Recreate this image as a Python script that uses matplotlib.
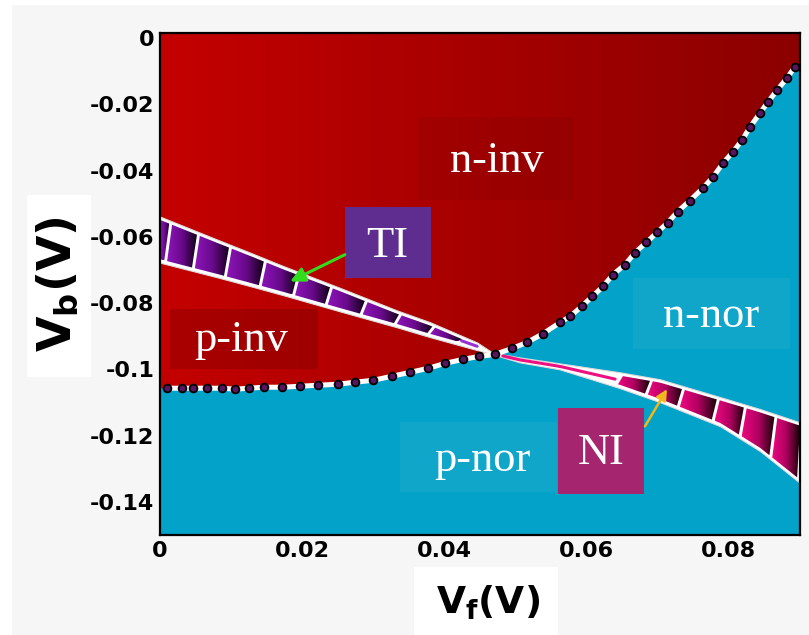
import numpy as np
import matplotlib.pyplot as plt
from matplotlib.patches import Polygon, Rectangle
from matplotlib.colors import LinearSegmentedColormap

# phase boundary between inverted and normal regimes (dots)
bound_vf = [0.0010, 0.0031, 0.0046, 0.0066, 0.0087, 0.0106, 0.0125, 0.0146,
            0.0172, 0.0197, 0.0222, 0.0250, 0.0274, 0.0300, 0.0326, 0.0352,
            0.0377, 0.0401, 0.0426, 0.0449, 0.0471, 0.0495, 0.0516, 0.0539,
            0.0563, 0.0577, 0.0593, 0.0608, 0.0623, 0.0637, 0.0654, 0.0668,
            0.0684, 0.0699, 0.0714, 0.0728, 0.0745, 0.0764, 0.0778, 0.0792,
            0.0806, 0.0819, 0.0830, 0.0844, 0.0855, 0.0868, 0.0882, 0.0893]
bound_vb = [-0.1057, -0.1057, -0.1057, -0.1057, -0.1057, -0.1060, -0.1057, -0.1054,
            -0.1054, -0.1051, -0.1048, -0.1045, -0.1039, -0.1033, -0.1021, -0.1009,
            -0.0997, -0.0982, -0.0970, -0.0961, -0.0955, -0.0937, -0.0919, -0.0892,
            -0.0858, -0.0840, -0.0810, -0.0780, -0.0750, -0.0714, -0.0684, -0.0648,
            -0.0617, -0.0587, -0.0557, -0.0524, -0.0491, -0.0452, -0.0419, -0.0377,
            -0.0343, -0.0307, -0.0268, -0.0226, -0.0193, -0.0157, -0.0120, -0.0087]

# topological insulator strip
ti_vf = [0.0, 0.0080, 0.0127, 0.0173, 0.0253, 0.0333, 0.0380, 0.0446, 0.0468]
ti_upper = [-0.0539, -0.0608, -0.0648, -0.0688, -0.0754, -0.0822, -0.0858, -0.0919, -0.0950]
ti_lower = [-0.0678, -0.0722, -0.0749, -0.0776, -0.0825, -0.0873, -0.0903, -0.0942, -0.0955]
ti_cells = [0.0, 0.0010, 0.0049, 0.0094, 0.0143, 0.0190, 0.0236, 0.0285, 0.0333,
            0.0380, 0.0422]

# normal insulator strip
ni_vf = [0.0468, 0.0506, 0.0562, 0.0647, 0.0703, 0.0788, 0.0844, 0.0900]
ni_upper = [-0.0950, -0.0964, -0.0982, -0.1009, -0.1030, -0.1084, -0.1120, -0.1160]
ni_lower = [-0.0955, -0.0979, -0.1000, -0.1057, -0.1099, -0.1172, -0.1247, -0.1343]
ni_cells = [0.0644, 0.0686, 0.0731, 0.0780, 0.0818, 0.0861, 0.0900]

x_ticks = [0, 0.02, 0.04, 0.06, 0.08]
x_ticklabels = ['0', '0.02', '0.04', '0.06', '0.08']
y_ticks = [0, -0.02, -0.04, -0.06, -0.08, -0.1, -0.12, -0.14]
y_ticklabels = ['0', '-0.02', '-0.04', '-0.06', '-0.08', '-0.1', '-0.12', '-0.14']

XMIN, XMAX, YMIN, YMAX = 0.0, 0.09, -0.15, 0.0015

plt.rcParams['mathtext.fontset'] = 'dejavusans'

W, H = 809, 635
fig = plt.figure(figsize=(W / 100, H / 100), dpi=100, facecolor='white')
fig.patches.append(Rectangle((12 / W, 0), 1, 1 - 5 / H, transform=fig.transFigure,
                             facecolor='#f6f6f6', edgecolor='none', zorder=-2))
ax = fig.add_axes([160 / W, 1 - 535 / H, 640 / W, 502 / H])
ax.set_facecolor('#03a2c8')

# red (inverted) region with left-to-right shading
red_cmap = LinearSegmentedColormap.from_list('red', ['#c40000', '#a60000', '#8c0000'])
red_poly = Polygon([(XMIN, YMAX), (XMIN, bound_vb[0])] + list(zip(bound_vf, bound_vb))
                   + [(XMAX, bound_vb[-1] + 0.001), (XMAX, YMAX)],
                   closed=True, transform=ax.transData)
im = ax.imshow(np.linspace(0, 1, 256).reshape(1, -1), cmap=red_cmap, aspect='auto',
               extent=[XMIN, XMAX, YMIN, YMAX], zorder=1, interpolation='bilinear')
im.set_clip_path(red_poly)

# label panels
def panel(x0, x1, y0, y1, color, alpha, z=2):
    ax.add_patch(Rectangle((x0, y0), x1 - x0, y1 - y0, facecolor=color, alpha=alpha,
                           edgecolor='none', zorder=z))

panel(0.0361, 0.0581, -0.0488, -0.0238, 'black', 0.05)
panel(0.0014, 0.0222, -0.1000, -0.0819, 'black', 0.13)
panel(0.0665, 0.0886, -0.0940, -0.0723, 'white', 0.05)
panel(0.0338, 0.0558, -0.1370, -0.1160, 'white', 0.05)

serif = dict(family='Liberation Serif', color='white', fontsize=32, ha='center', va='baseline')
ax.text(0.0474, -0.0404, 'n-inv', zorder=3, **serif)
ax.text(0.0114, -0.0946, 'p-inv', zorder=3, **serif)
ax.text(0.0775, -0.0873, 'n-nor', zorder=3, **serif)
ax.text(0.0454, -0.1307, 'p-nor', zorder=3, **serif)


def draw_band(vf, upper, lower, cells, cmap, line_span, line_color):
    vf, upper, lower = map(np.asarray, (vf, upper, lower))
    ax.fill_between(vf, lower, upper, color='white', lw=0.8, edgecolor='#dddddd', zorder=4)
    mid = (upper + lower) / 2
    half = np.maximum((upper - lower) / 2 - 0.0010, 0.0002)
    top, bot = mid + half, mid - half
    gap, shift = 0.0004, 0.0007
    grad = np.linspace(0, 1, 64).reshape(1, -1)
    for i, (a, b) in enumerate(zip(cells[:-1], cells[1:])):
        t_lo = np.linspace(a, b - gap, 10)
        t_up = np.clip(np.linspace(a + (0 if i == 0 and a <= vf[0] else shift),
                                   b - gap + shift, 10), vf[0], vf[-1])
        y_lo = np.interp(t_lo, vf, bot)
        y_up = np.interp(t_up, vf, top)
        pts = list(zip(t_lo, y_lo)) + list(zip(t_up[::-1], y_up[::-1]))
        cell = Polygon(pts, closed=True, transform=ax.transData)
        c_im = ax.imshow(grad, cmap=cmap, aspect='auto', interpolation='bilinear',
                         extent=[a, max(t_up[-1], t_lo[-1]), y_lo.min(), y_up.max()],
                         zorder=5)
        c_im.set_clip_path(cell)
    t = np.linspace(line_span[0], line_span[1], 20)
    ax.plot(t, np.interp(t, vf, mid), color=line_color, lw=2.2, solid_capstyle='round',
            zorder=5)


ti_cmap = LinearSegmentedColormap.from_list('ti', ['#8c14b8', '#6a0a8c', '#120018'])
ni_cmap = LinearSegmentedColormap.from_list('ni', ['#ec0880', '#b00060', '#180008'])
draw_band(ti_vf, ti_upper, ti_lower, ti_cells, ti_cmap, (0.0424, 0.0446), '#9a30d0')
draw_band(ni_vf, ni_upper, ni_lower, ni_cells, ni_cmap, (0.0482, 0.0640), '#ec1080')

# dotted phase boundary
ax.plot(bound_vf, bound_vb, color='white', lw=3.6, zorder=6)
ax.plot(bound_vf, bound_vb, ls='none', marker='o', ms=5.6, mfc='#5a1560', mec='black',
        mew=1.3, zorder=7)

# TI / NI tags with arrows
panel(0.0260, 0.0381, -0.0723, -0.0509, '#5e2d8f', 1.0, z=8)
panel(0.0560, 0.0681, -0.1377, -0.1117, '#a5256f', 1.0, z=8)
ax.text(0.0319, -0.0660, 'TI', zorder=9, **serif)
ax.text(0.0620, -0.1286, 'NI', zorder=9, **serif)
ax.annotate('', xy=(0.0183, -0.0735), xytext=(0.0260, -0.0654), zorder=9,
            arrowprops=dict(arrowstyle='-|>', color='#33dd1e', lw=2.2, mutation_scale=22,
                            shrinkA=0, shrinkB=0))
ax.annotate('', xy=(0.0713, -0.1060), xytext=(0.0682, -0.1172), zorder=9,
            arrowprops=dict(arrowstyle='-|>', color='#f2b71c', lw=1.8, mutation_scale=16,
                            shrinkA=0, shrinkB=0))

ax.set_xlim(XMIN, XMAX)
ax.set_ylim(YMIN, YMAX)
ax.set_xticks(x_ticks)
ax.set_xticklabels(x_ticklabels)
ax.set_yticks(y_ticks)
ax.set_yticklabels(y_ticklabels)
ax.tick_params(length=0, pad=4, labelsize=16)
for lab in ax.get_xticklabels() + ax.get_yticklabels():
    lab.set_fontweight('bold')
for sp in ax.spines.values():
    sp.set_linewidth(1.6)
    sp.set_zorder(10)

# axis titles on white cards
fig.patches.append(Rectangle((27 / W, 1 - 377 / H), 64 / W, 182 / H, transform=fig.transFigure,
                             facecolor='white', edgecolor='none', zorder=1))
fig.patches.append(Rectangle((414 / W, 0), 144 / W, 68 / H, transform=fig.transFigure,
                             facecolor='white', edgecolor='none', zorder=1))
fig.text(58 / W, 1 - 284 / H, r'V$_\mathbf{b}$(V)', rotation=90, fontsize=33,
         fontweight='bold', ha='center', va='center')
fig.text(488 / W, 1 - 603 / H, r'V$_\mathbf{f}$(V)', fontsize=27,
         fontweight='bold', ha='center', va='center')

fig.savefig('out.png', dpi=100, facecolor=fig.get_facecolor())
